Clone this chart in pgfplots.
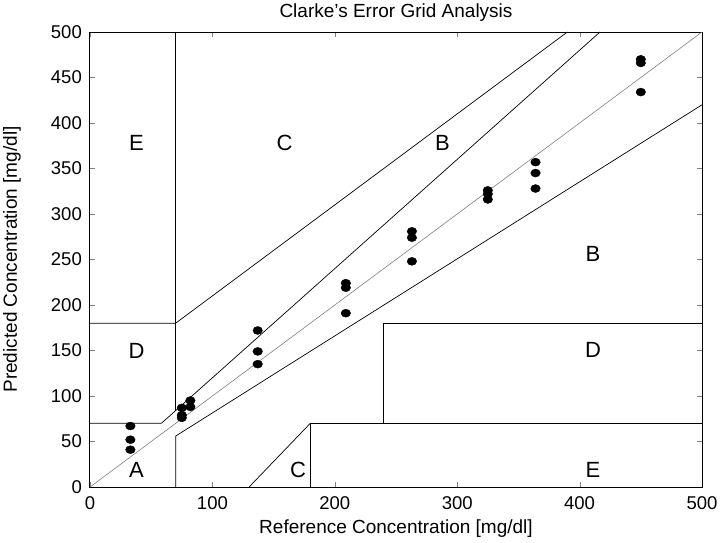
\documentclass[border=0pt]{standalone}
\usepackage{pgfplots}
\pgfplotsset{compat=1.18}
\usepackage{fontspec}
\setmainfont{Liberation Sans}
\begin{document}
\fontsize{18}{21}\selectfont
\begin{tikzpicture}
\begin{axis}[
  scale only axis,
  width=612pt, height=455pt,
  xmin=0, xmax=500, ymin=0, ymax=500,
  xtick={0,100,...,500}, ytick={0,50,...,500},
  tick align=inside,
  major tick length=5pt,
  /pgf/number format/assume math mode=true,
  ticklabel style={font=\fontsize{18.5}{21}\selectfont},
  xticklabel style={yshift=-3pt},
  yticklabel style={xshift=-2pt},
  label style={font=\fontsize{19}{22}\selectfont},
  title style={font=\fontsize{19}{22}\selectfont, yshift=-2pt},
  title={Clarke's Error Grid Analysis},
  xlabel={Reference Concentration [mg/dl]},
  ylabel={Predicted Concentration [mg/dl]},
  xlabel style={yshift=2pt},
  ylabel style={yshift=18pt},
  axis line style={line width=1pt},
  clip=false,
]
\addplot[gray, line width=0.6pt] coordinates {(0,0) (500,500)};
\addplot[black, line width=0.7pt] coordinates {(0,70) (58.33,70) (416.67,500)};
\addplot[black, line width=0.7pt] coordinates {(70,84) (70,500)};
\addplot[black, line width=0.7pt] coordinates {(0,180) (70,180) (390,500)};
\addplot[black, line width=0.7pt] coordinates {(70,0) (70,56) (500,420)};
\addplot[black, line width=0.7pt] coordinates {(180,0) (180,70) (500,70)};
\addplot[black, line width=0.7pt] coordinates {(240,70) (240,180) (500,180)};
\addplot[black, line width=0.7pt] coordinates {(130,0) (180,70)};
\addplot[only marks, mark=*, mark size=4pt, mark options={xscale=1.2, fill=black, draw=black}] coordinates {
(33,67) (33,52) (33,41)
(75,76) (75,79) (75,87) (82,88) (82,95)
(137,172) (137,149) (137,135)
(209,224) (209,219) (209,191)
(263,281) (263,274) (263,248)
(325,326) (325,322) (325,316)
(364,357) (364,345) (364,328)
(450,470) (450,466) (450,434)
};
\node[font=\fontsize{22}{24}\selectfont] at (axis cs:38,19) {A};
\node[font=\fontsize{22}{24}\selectfont] at (axis cs:288,378) {B};
\node[font=\fontsize{22}{24}\selectfont] at (axis cs:411,256) {B};
\node[font=\fontsize{22}{24}\selectfont] at (axis cs:159,378) {C};
\node[font=\fontsize{22}{24}\selectfont] at (axis cs:170,19) {C};
\node[font=\fontsize{22}{24}\selectfont] at (axis cs:38,150) {D};
\node[font=\fontsize{22}{24}\selectfont] at (axis cs:411,151) {D};
\node[font=\fontsize{22}{24}\selectfont] at (axis cs:38,378) {E};
\node[font=\fontsize{22}{24}\selectfont] at (axis cs:411,19) {E};
\end{axis}
\pgfresetboundingbox
\useasboundingbox (-90pt,-55pt) rectangle (634pt,487pt);
\end{tikzpicture}
\end{document}
